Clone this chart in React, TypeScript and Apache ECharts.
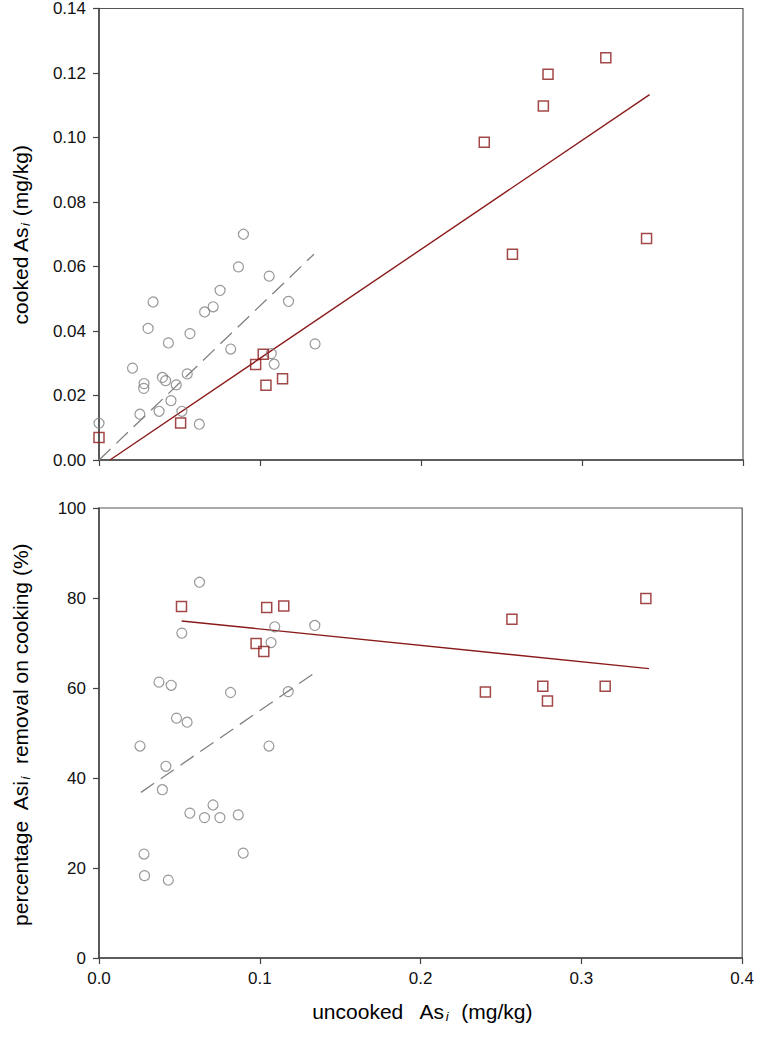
import React, { useEffect, useRef } from "react";
import * as echarts from "echarts";

// Top panel: cooked vs uncooked, circles (grey)
const circTopX = [0, 0.0254, 0.0208, 0.028, 0.0278, 0.0305, 0.0336, 0.0373, 0.0394, 0.0414, 0.0431, 0.0447, 0.048, 0.0515, 0.0548, 0.0565, 0.0623, 0.0656, 0.0709, 0.0752, 0.0818, 0.0866, 0.0897, 0.1057, 0.107, 0.1088, 0.1177, 0.1342];
const circTopY = [0.0114, 0.0142, 0.0285, 0.0237, 0.0222, 0.0408, 0.049, 0.0151, 0.0256, 0.0246, 0.0363, 0.0184, 0.0233, 0.0151, 0.0267, 0.0392, 0.0111, 0.0459, 0.0475, 0.0526, 0.0344, 0.0599, 0.070, 0.057, 0.033, 0.0297, 0.0492, 0.036];
// Top panel squares (red)
const sqTopX = [0, 0.0507, 0.0973, 0.102, 0.1037, 0.114, 0.2393, 0.2568, 0.276, 0.2789, 0.3148, 0.3401];
const sqTopY = [0.007, 0.0115, 0.0296, 0.0328, 0.0232, 0.0252, 0.0985, 0.0638, 0.1098, 0.1196, 0.1247, 0.0687];
// Top fits
const fitTopSq = [[0.0068, 0], [0.342, 0.1133]];
const fitTopCirc = [[0, 0], [0.1335, 0.0638]];

// Bottom panel: percentage removal
const circBotX = [0.0625, 0.0515, 0.1093, 0.107, 0.1342, 0.0373, 0.0449, 0.0818, 0.1177, 0.0482, 0.0548, 0.0255, 0.1057, 0.0416, 0.0394, 0.0709, 0.0565, 0.0656, 0.0752, 0.0866, 0.028, 0.0897, 0.0283, 0.0431];
const circBotY = [83.5, 72.2, 73.6, 70.1, 73.9, 61.3, 60.6, 59.0, 59.2, 53.3, 52.4, 47.1, 47.1, 42.6, 37.4, 34.0, 32.2, 31.2, 31.2, 31.8, 23.1, 23.3, 18.3, 17.3];
const sqBotX = [0.0513, 0.1043, 0.1149, 0.0977, 0.1025, 0.2403, 0.2568, 0.276, 0.2789, 0.3148, 0.3401];
const sqBotY = [78.1, 77.9, 78.2, 69.9, 68.1, 59.1, 75.3, 60.4, 57.1, 60.4, 79.9];
const fitBotSq = [[0.0514, 74.9], [0.342, 64.3]];
const fitBotCirc = [[0.0261, 36.8], [0.1351, 63.6]];

const xTicks = ["0.0", "0.1", "0.2", "0.3", "0.4"];

const zip = (a: number[], b: number[]) => a.map((v, i) => [v, b[i]]);

const FONT = 'Arial, "Liberation Sans", sans-serif';
const RED = "#8B1A1A";
const GREY = "#808080";
const AXIS = "#444";

export default function App() {
  const ref = useRef<HTMLDivElement>(null);
  useEffect(() => {
    if (!ref.current) return;
    const chart = echarts.init(ref.current, undefined, { renderer: "svg" });
    const xAxisBase = (gridIndex: number, showLabels: boolean) => ({
      type: "value",
      gridIndex,
      min: 0,
      max: 0.4,
      interval: 0.1,
      axisLine: { show: true, onZero: false, lineStyle: { color: AXIS, width: 1.5 } },
      axisTick: { show: true, inside: false, length: 6, lineStyle: { color: AXIS, width: 1.2 } },
      axisLabel: {
        show: showLabels,
        margin: 12,
        color: "#111",
        fontSize: 17,
        fontFamily: FONT,
        formatter: (v: number) => xTicks[Math.round(v * 10)] ?? "",
      },
      splitLine: { show: false },
    });
    const scatterCirc = (data: number[][], idx: number) => ({
      type: "scatter",
      xAxisIndex: idx,
      yAxisIndex: idx,
      data,
      symbol: "circle",
      symbolSize: 10,
      itemStyle: { color: "rgba(0,0,0,0)", borderColor: GREY, borderWidth: 1.2 },
      z: 3,
    });
    const scatterSq = (data: number[][], idx: number) => ({
      type: "scatter",
      xAxisIndex: idx,
      yAxisIndex: idx,
      data,
      symbol: "rect",
      symbolSize: 10,
      itemStyle: { color: "rgba(0,0,0,0)", borderColor: RED, borderWidth: 1.5 },
      z: 4,
    });
    const fitLine = (data: number[][], idx: number, color: string, dashed: boolean) => ({
      type: "line",
      xAxisIndex: idx,
      yAxisIndex: idx,
      data,
      showSymbol: false,
      symbol: "none",
      lineStyle: { color, width: dashed ? 1.3 : 1.4, type: dashed ? [16, 8] : "solid" },
      z: 2,
    });
    const subRich = {
      n: { fontSize: 21, fontFamily: FONT, color: "#111" },
      s: { fontSize: 13, fontFamily: FONT, fontStyle: "italic", color: "#111", padding: [11, 1, 0, 1] },
    };
    const yLabel = { margin: 13, color: "#111", fontSize: 17, fontFamily: FONT };
    chart.setOption({
      animation: false,
      backgroundColor: "#fff",
      grid: [
        { left: 99, top: 8, width: 644, height: 452, show: true, borderColor: "#555", borderWidth: 1.2, backgroundColor: "transparent" },
        { left: 99, top: 508, width: 644, height: 450, show: true, borderColor: "#555", borderWidth: 1.2, backgroundColor: "transparent" },
      ],
      xAxis: [xAxisBase(0, false), xAxisBase(1, true)],
      yAxis: [
        {
          type: "value",
          gridIndex: 0,
          min: 0,
          max: 0.14,
          interval: 0.02,
          axisLine: { show: true, onZero: false, lineStyle: { color: AXIS, width: 1.5 } },
          axisTick: { show: true, length: 6, lineStyle: { color: AXIS, width: 1.2 } },
          axisLabel: { ...yLabel, formatter: (v: number) => v.toFixed(2) },
          splitLine: { show: false },
        },
        {
          type: "value",
          gridIndex: 1,
          min: 0,
          max: 100,
          interval: 20,
          axisLine: { show: true, onZero: false, lineStyle: { color: AXIS, width: 1.5 } },
          axisTick: { show: true, length: 6, lineStyle: { color: AXIS, width: 1.2 } },
          axisLabel: yLabel,
          splitLine: { show: false },
        },
      ],
      series: [
        fitLine(fitTopCirc, 0, GREY, true),
        fitLine(fitTopSq, 0, RED, false),
        scatterCirc(zip(circTopX, circTopY), 0),
        scatterSq(zip(sqTopX, sqTopY), 0),
        fitLine(fitBotCirc, 1, GREY, true),
        fitLine(fitBotSq, 1, RED, false),
        scatterCirc(zip(circBotX, circBotY), 1),
        scatterSq(zip(sqBotX, sqBotY), 1),
      ],
      graphic: [
        {
          type: "text",
          x: 20,
          y: 235,
          rotation: Math.PI / 2,
          style: { text: "{n|cooked As}{s|i}{n| (mg/kg)}", rich: subRich, align: "center", verticalAlign: "middle" },
        },
        {
          type: "text",
          x: 20,
          y: 735,
          rotation: Math.PI / 2,
          style: { text: "{n|percentage  Asi}{s|i}{n|  removal on cooking (%)}", rich: subRich, align: "center", verticalAlign: "middle" },
        },
        {
          type: "text",
          x: 422,
          y: 1011,
          style: { text: "{n|uncooked   As}{s|i}{n|  (mg/kg)}", rich: subRich, align: "center", verticalAlign: "middle" },
        },
      ],
    });
    return () => chart.dispose();
  }, []);
  return <div ref={ref} style={{ position: "fixed", left: 0, top: 0, width: 757, height: 1043 }} />;
}
